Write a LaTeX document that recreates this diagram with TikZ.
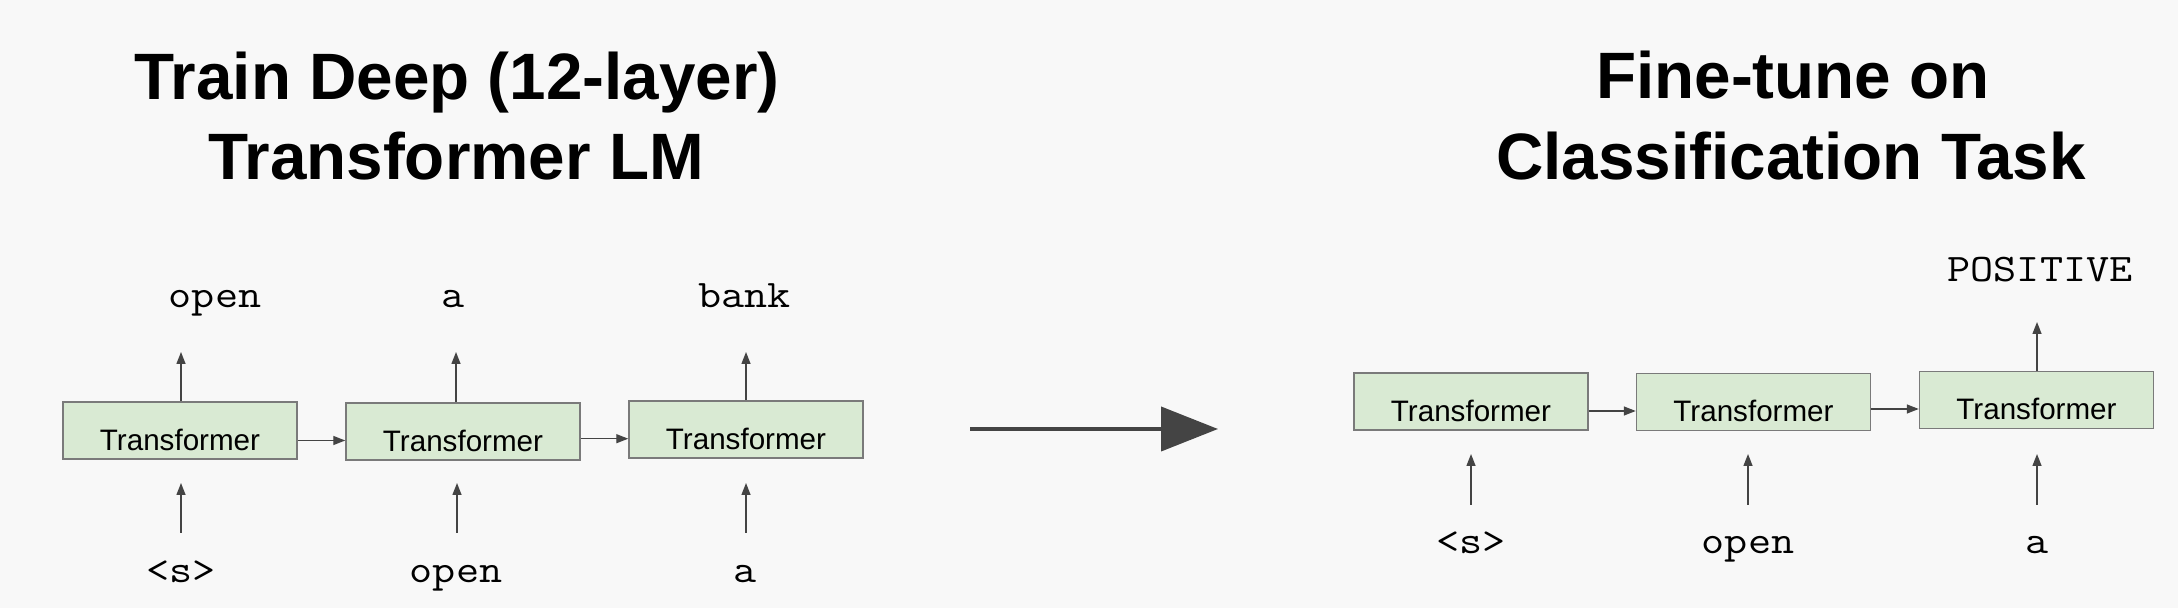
\documentclass[tikz,border=0pt]{standalone}
\usepackage{fontspec}
\usepackage{graphicx}
\newfontfamily\arialf{Liberation Sans}
\usetikzlibrary{arrows.meta,calc}
\definecolor{bgc}{HTML}{F8F8F8}
\definecolor{boxfill}{HTML}{D9EAD3}
\definecolor{boxline}{HTML}{7A7A7A}
\definecolor{arrowc}{HTML}{444444}
\newcommand\mtxt[1]{\scalebox{1.15}[1]{#1}}
\begin{document}
\begin{tikzpicture}[x=0.5pt,y=-0.5pt,
  tbox/.style={draw=boxline, fill=boxfill, line width=0.75pt, minimum width=117pt,
    minimum height=28.5pt, inner sep=0pt, text height=24.25pt, text depth=4.25pt,
    font=\arialf\fontsize{14.8}{17}\selectfont},
  lbl/.style={anchor=base, inner sep=0pt, font=\ttfamily\fontsize{19.5}{22}\selectfont},
  ttl/.style={anchor=base, inner sep=0pt, font=\arialf\bfseries\fontsize{32.8}{40}\selectfont},
  arr/.style={draw=arrowc, line width=0.7pt, -{Triangle[length=6pt,width=4.5pt]}},
  bigarr/.style={draw=arrowc, line width=2pt, -{Triangle[length=28.5pt,width=22pt]}}]
\fill[bgc] (0,0) rectangle (2178,608);
\useasboundingbox (0,0) rectangle (2178,608);

% titles
\node[ttl] (t1a) at (457,100) {Train Deep (12-layer)};
\node[ttl] (t1b) at (456,180) {Transformer LM};
\node[ttl] (t2a) at (1793,98.3) {Fine-tune on};
\node[ttl] (t2b) at (1791,179.3) {Classification Task};

% left boxes
\node[tbox] (L1) at (180,430.5) {Transformer};
\node[tbox] (L2) at (463,431.5) {Transformer};
\node[tbox] (L3) at (746,429.5) {Transformer};

% left output labels
\node[lbl] (o1) at (215,308) {\mtxt{open}};
\node[lbl] (o2) at (453,308) {\mtxt{a}};
\node[lbl] (o3) at (744.5,308) {\mtxt{bank}};

% left input labels
\node[lbl] (i1) at (181,582) {\mtxt{<s>}};
\node[lbl] (i2) at (456,582) {\mtxt{open}};
\node[lbl] (i3) at (745,582) {\mtxt{a}};

% left arrows
\coordinate (u1) at (181,352);
\coordinate (u2) at (456,352);
\coordinate (u3) at (746,352);
\draw[arr] (L1.north -| u1) -- (u1);
\draw[arr] (L2.north -| u2) -- (u2);
\draw[arr] (L3.north -| u3) -- (u3);
\coordinate (a1) at (181,533); \coordinate (b1) at (181,483);
\coordinate (a2) at (457,533); \coordinate (b2) at (457,483);
\coordinate (a3) at (746,533); \coordinate (b3) at (746,483);
\draw[arr] (a1) -- (b1);
\draw[arr] (a2) -- (b2);
\draw[arr] (a3) -- (b3);
\draw[arr] ([yshift=-5pt]L1.east) -- ([yshift=-5pt]L1.east -| L2.west);
\draw[arr] ([yshift=-3.6pt]L2.east) -- ([yshift=-3.6pt]L2.east -| L3.west);

% big arrow
\coordinate (bs) at (970,429);
\coordinate (be) at (1218,429);
\draw[bigarr] (bs) -- (be);

% right boxes
\node[tbox] (R1) at (1471,401.5) {Transformer};
\node[tbox] (R2) at (1753.5,402) {Transformer};
\node[tbox] (R3) at (2036.5,400) {Transformer};

\node[lbl] (p) at (2040,282) {\mtxt{POSITIVE}};
\node[lbl] (j1) at (1471,553) {\mtxt{<s>}};
\node[lbl] (j2) at (1748,553) {\mtxt{open}};
\node[lbl] (j3) at (2037,553) {\mtxt{a}};

\coordinate (v3) at (2037,322);
\draw[arr] (R3.north -| v3) -- (v3);
\coordinate (c1) at (1471,505); \coordinate (d1) at (1471,454);
\coordinate (c2) at (1748,505); \coordinate (d2) at (1748,454);
\coordinate (c3) at (2037,505); \coordinate (d3) at (2037,454);
\draw[arr] (c1) -- (d1);
\draw[arr] (c2) -- (d2);
\draw[arr] (c3) -- (d3);
\draw[arr] ([yshift=-4.75pt]R1.east) -- ([yshift=-4.75pt]R1.east -| R2.west);
\draw[arr] ([yshift=-3.5pt]R2.east) -- ([yshift=-3.5pt]R2.east -| R3.west);
\end{tikzpicture}
\end{document}
